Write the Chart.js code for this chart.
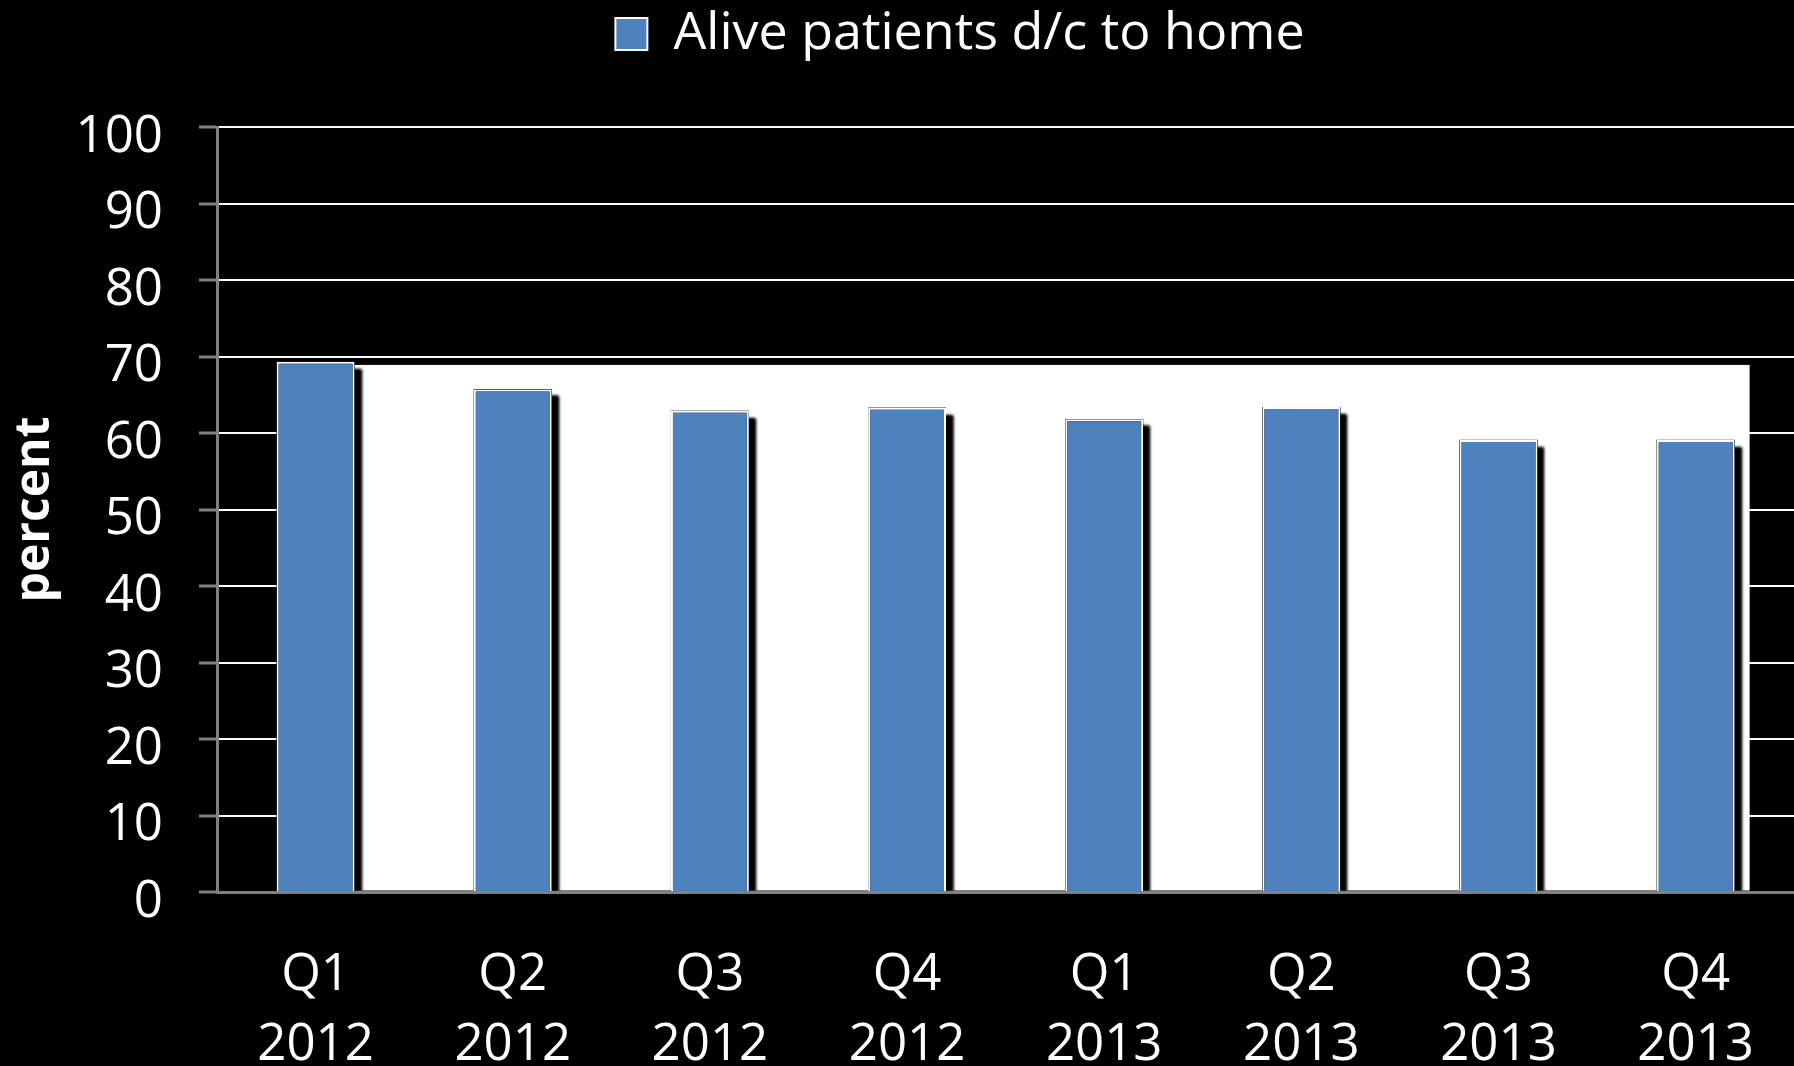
<!DOCTYPE html>
<html>
<head>
<meta charset="utf-8">
<script src="https://cdn.jsdelivr.net/npm/chart.js@4.4.1/dist/chart.umd.min.js"></script>
<style>
  html, body { margin: 0; padding: 0; background: #000; overflow: hidden; }
  canvas { display: block; }
</style>
</head>
<body>
<canvas id="myChart" width="1802" height="1066"></canvas>
<script>
// Quarterly share of surviving patients discharged home
const quarters = [
    ['Q1', '2012'], ['Q2', '2012'], ['Q3', '2012'], ['Q4', '2012'],
    ['Q1', '2013'], ['Q2', '2013'], ['Q3', '2013'], ['Q4', '2013']
];
const homePercent = [69.3, 65.7, 62.9, 63.3, 61.8, 63.4, 59.1, 59.1];
const seriesName = 'Alive patients d/c to home';
const yTickValues = [0, 10, 20, 30, 40, 50, 60, 70, 80, 90, 100];
const backdropTop = 68.9; // top of the white panel behind the bars, in percent

Chart.defaults.font.family = "'Open Sans', sans-serif";

// keep the legend row at the top and push the plot down below it
const legendRow = {
    id: 'legendRow',
    beforeLayout(chart) {
        const lg = chart.legend;
        if (!lg || lg._rowFit) return;
        const fit = lg.fit;
        lg.fit = function() {
            fit.call(this);
            this.height = 127;
        };
        lg._rowFit = true;
    },
    afterLayout(chart) {
        chart.legend.left += 59;
        chart.legend.right += 59;
    }
};

// white panel behind the bars plus a drop shadow on each bar
const barBackdrop = {
    id: 'barBackdrop',
    beforeDatasetsDraw(chart) {
        const ctx = chart.ctx;
        const y = chart.scales.y;
        const bars = chart.getDatasetMeta(0).data;
        if (!bars.length) return;
        const last = bars[bars.length - 1];
        const top = y.getPixelForValue(backdropTop);
        const bottom = y.getPixelForValue(0) - 1.5;
        const left = bars[0].x;
        const right = last.x + last.width / 2 + 15;

        ctx.save();
        ctx.fillStyle = '#fff';
        ctx.fillRect(left, top, right - left, bottom - top);

        ctx.beginPath();
        ctx.rect(chart.chartArea.left, chart.chartArea.top, chart.chartArea.width, bottom - chart.chartArea.top);
        ctx.clip();
        ctx.shadowColor = '#000';
        ctx.shadowBlur = 3;
        ctx.shadowOffsetX = 7;
        ctx.shadowOffsetY = 7;
        ctx.fillStyle = '#000';
        for (let pass = 0; pass < 2; pass++) {
            bars.forEach(b => {
                ctx.fillRect(b.x - b.width / 2, b.y, b.width, b.base - b.y);
            });
        }
        ctx.restore();
    }
};

const ctx = document.getElementById('myChart').getContext('2d');

new Chart(ctx, {
    type: 'bar',
    data: {
        labels: quarters,
        datasets: [{
            label: seriesName,
            data: homePercent,
            backgroundColor: '#4F81BD',
            borderColor: '#fff',
            borderWidth: 2,
            categoryPercentage: 1,
            barPercentage: 0.395
        }]
    },
    options: {
        responsive: false,
        animation: false,
        devicePixelRatio: 1,
        layout: { padding: 0 },
        plugins: {
            legend: {
                position: 'top',
                labels: {
                    color: '#fff',
                    font: { size: 52 },
                    boxWidth: 32,
                    boxHeight: 32,
                    padding: 8
                }
            },
            tooltip: { enabled: false }
        },
        scales: {
            x: {
                grid: { drawOnChartArea: false, drawTicks: false },
                border: { color: '#808080', width: 3 },
                ticks: {
                    color: '#fff',
                    font: { size: 51, lineHeight: 1.373 },
                    padding: 48,
                    maxRotation: 0,
                    autoSkip: false
                },
                afterFit(scale) { scale.height = 174; }
            },
            y: {
                min: 0,
                max: 100,
                afterBuildTicks(scale) {
                    scale.ticks = yTickValues.map(v => ({ value: v }));
                },
                grid: {
                    color: c => (c.tick && c.tick.value === 0) ? 'rgba(0,0,0,0)' : '#fff',
                    lineWidth: 2,
                    tickColor: '#808080',
                    tickLength: 18,
                    tickWidth: 3
                },
                border: { color: '#808080', width: 3 },
                ticks: {
                    color: '#fff',
                    font: { size: 51 },
                    padding: 36,
                    labelOffset: 10
                },
                title: {
                    display: true,
                    text: 'percent',
                    color: '#fff',
                    font: { size: 48, weight: 'bold' },
                    padding: { top: 7, bottom: 0 }
                },
                afterFit(scale) { scale.width = 217; }
            }
        }
    },
    plugins: [legendRow, barBackdrop]
});
</script>
</body>
</html>
